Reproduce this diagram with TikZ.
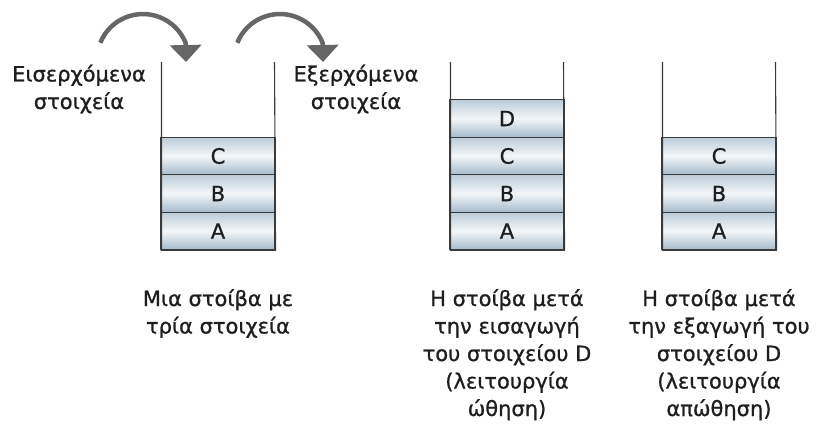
\documentclass[tikz,border=0pt]{standalone}
\usepackage{fontspec}
\setmainfont{DejaVu Sans}[FakeBold=0.9]
\usetikzlibrary{arrows.meta}
\definecolor{wallgray}{HTML}{3A3A3A}
\definecolor{arrowgray}{HTML}{666666}
\definecolor{boxtop}{HTML}{BCCCD8}
\definecolor{boxmid}{HTML}{F3F6F8}
\definecolor{boxbot}{HTML}{A6BACA}
\definecolor{txt}{HTML}{1E1E1E}
\tikzset{
  item/.style={draw=wallgray, line width=1.1pt, minimum width=114pt, minimum height=37.5pt,
    inner sep=0pt, top color=boxtop, bottom color=boxbot, middle color=boxmid,
    font=\fontsize{21}{24}\selectfont, text=txt},
  wall/.style={draw=wallgray, line width=1.1pt},
  lbl/.style={align=center, font=\fontsize{21}{27.5}\selectfont, text=txt, inner sep=0pt},
  curvearrow/.style={draw=arrowgray, line width=4.5pt, -{Triangle[width=31pt,length=17pt]}}
}
\begin{document}
\begin{tikzpicture}[x=1pt,y=-1pt]
\useasboundingbox (0,0) rectangle (819,426);
% stack 1
\node[item] (s1a) at (218,231) {A};
\node[item] (s1b) at (218,193.5) {B};
\node[item] (s1c) at (218,156) {C};
\coordinate (s1tl) at (161.5,62);
\coordinate (s1tr) at (274.5,62);
\draw[wall] (s1tl) |- (s1a.south east) -- (s1tr);
% stack 2
\node[item] (s2a) at (507,231) {A};
\node[item] (s2b) at (507,193.5) {B};
\node[item] (s2c) at (507,156) {C};
\node[item] (s2d) at (507,118.5) {D};
\coordinate (s2tl) at (450.5,62);
\coordinate (s2tr) at (563.5,62);
\draw[wall] (s2tl) |- (s2a.south east) -- (s2tr);
% stack 3
\node[item] (s3a) at (719,231) {A};
\node[item] (s3b) at (719,193.5) {B};
\node[item] (s3c) at (719,156) {C};
\coordinate (s3tl) at (662.5,62);
\coordinate (s3tr) at (775.5,62);
\draw[wall] (s3tl) |- (s3a.south east) -- (s3tr);
% arrows
\coordinate (a1s) at (100.3,42.8);
\coordinate (a1e) at (186,62);
\draw[curvearrow] (a1s) arc[start angle=-158, end angle=-22, radius=46] -- (a1e);
\coordinate (a2s) at (237.3,42.8);
\coordinate (a2e) at (323,62);
\draw[curvearrow] (a2s) arc[start angle=-158, end angle=-22, radius=46] -- (a2e);
% labels
\node[lbl] (lin) at (79,89) {Εισερχόμενα\\στοιχεία};
\node[lbl] (lout) at (356,89) {Εξερχόμενα\\στοιχεία};
\node[lbl, anchor=north] (c1) at (218,289) {Μια στοίβα με\\τρία στοιχεία};
\node[lbl, anchor=north] (c2) at (507,289) {Η στοίβα μετά\\την εισαγωγή\\του στοιχείου D\\(λειτουργία\\ώθηση)};
\node[lbl, anchor=north] (c3) at (719,289) {Η στοίβα μετά\\την εξαγωγή του\\στοιχείου D\\(λειτουργία\\απώθηση)};
\end{tikzpicture}
\end{document}
